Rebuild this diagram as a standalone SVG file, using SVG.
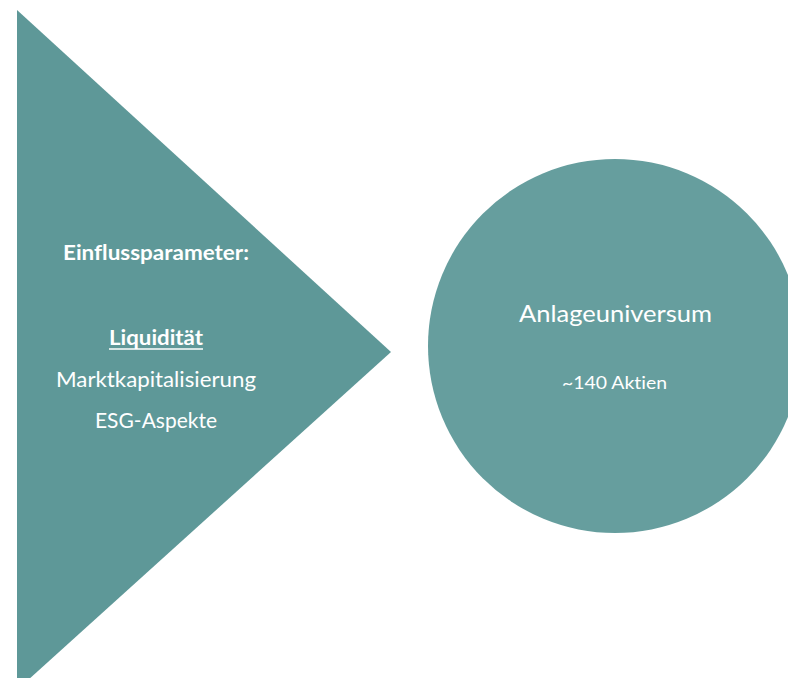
<svg xmlns="http://www.w3.org/2000/svg" width="788" height="678" viewBox="0 0 788 678">
<style>
.t{font-family:Lato,"Open Sans","Liberation Sans",sans-serif;fill:#ffffff;text-anchor:middle;font-variant-ligatures:none;font-feature-settings:"liga" 0,"dlig" 0}
</style>
<rect width="788" height="678" fill="#ffffff"/>
<g id="triangle">
<polygon points="17,10 391,352 17,690" fill="#5e9898"/>
<text class="t" x="156" y="260" font-size="20" font-weight="bold" textLength="186" lengthAdjust="spacingAndGlyphs">Einflussparameter:</text>
<text class="t" x="156" y="345" font-size="20.5" font-weight="bold" textLength="94" lengthAdjust="spacingAndGlyphs">Liquidität</text>
<line x1="109" y1="349" x2="203" y2="349" stroke="#ffffff" stroke-width="1.5"/>
<text class="t" x="156" y="387" font-size="20.5" textLength="200" lengthAdjust="spacingAndGlyphs">Marktkapitalisierung</text>
<text class="t" x="156" y="428" font-size="20.5" textLength="122" lengthAdjust="spacingAndGlyphs">ESG-Aspekte</text>
</g>
<g id="circle">
<circle cx="615" cy="346" r="187" fill="#669e9e"/>
<text class="t" x="615.5" y="322" font-size="23" textLength="193" lengthAdjust="spacingAndGlyphs">Anlageuniversum</text>
<text class="t" x="614.5" y="389" font-size="17" textLength="105" lengthAdjust="spacingAndGlyphs">~140 Aktien</text>
</g>
<g id="connectors"></g>
</svg>
